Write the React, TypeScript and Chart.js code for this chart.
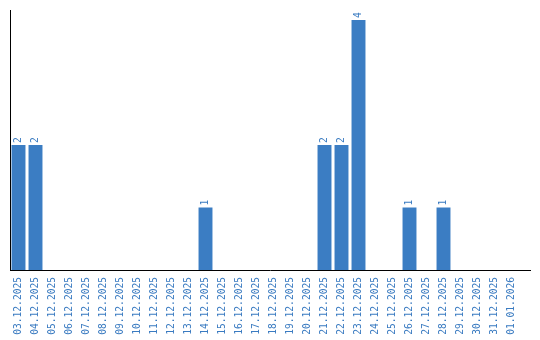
import React, { useEffect, useRef } from "react";
import { Chart, registerables } from "chart.js";

Chart.register(...registerables);

const categories = [
  "03.12.2025", "04.12.2025", "05.12.2025", "06.12.2025", "07.12.2025",
  "08.12.2025", "09.12.2025", "10.12.2025", "11.12.2025", "12.12.2025",
  "13.12.2025", "14.12.2025", "15.12.2025", "16.12.2025", "17.12.2025",
  "18.12.2025", "19.12.2025", "20.12.2025", "21.12.2025", "22.12.2025",
  "23.12.2025", "24.12.2025", "25.12.2025", "26.12.2025", "27.12.2025",
  "28.12.2025", "29.12.2025", "30.12.2025", "31.12.2025", "01.01.2026",
];
const counts = [
  2, 2, 0, 0, 0, 0, 0, 0, 0, 0,
  0, 1, 0, 0, 0, 0, 0, 0, 2, 2,
  4, 0, 0, 1, 0, 1, 0, 0, 0, 0,
];

const BAR = "#3b7dc3";
const TEXT = "#3a7bc1";
const FONT = "'DejaVu Sans Mono', 'Liberation Mono', monospace";

const axisAndLabels = {
  id: "axisAndLabels",
  afterDatasetsDraw(chart: any) {
    const { ctx, chartArea } = chart;
    ctx.save();
    ctx.strokeStyle = "#000";
    ctx.lineWidth = 1;
    ctx.beginPath();
    ctx.moveTo(chartArea.left + 0.5, chartArea.top);
    ctx.lineTo(chartArea.left + 0.5, chartArea.bottom + 1);
    ctx.moveTo(chartArea.left, chartArea.bottom + 0.5);
    ctx.lineTo(531, chartArea.bottom + 0.5);
    ctx.stroke();

    const meta = chart.getDatasetMeta(0);
    const xScale = chart.scales.x;
    ctx.fillStyle = TEXT;
    ctx.font = `9.6px ${FONT}`;
    ctx.textBaseline = "middle";
    meta.data.forEach((bar: any, i: number) => {
      const v = counts[i];
      if (!v) return;
      ctx.save();
      ctx.translate(bar.x, bar.y - 2);
      ctx.rotate(-Math.PI / 2);
      ctx.textAlign = "left";
      ctx.fillText(String(v), 0, 0);
      ctx.restore();
    });
    categories.forEach((label, i) => {
      const x = xScale.getPixelForValue(i);
      ctx.save();
      ctx.translate(x, chartArea.bottom + 7);
      ctx.rotate(-Math.PI / 2);
      ctx.textAlign = "right";
      ctx.fillText(label, 0, 0);
      ctx.restore();
    });
    ctx.restore();
  },
};

export default function App() {
  const ref = useRef<HTMLCanvasElement | null>(null);
  useEffect(() => {
    document.body.style.margin = "0";
    const chart = new Chart(ref.current!, {
      type: "bar",
      data: {
        labels: categories,
        datasets: [
          {
            data: counts,
            backgroundColor: BAR,
            borderWidth: 0,
            categoryPercentage: 1,
            barPercentage: 0.82,
          },
        ],
      },
      options: {
        animation: false,
        responsive: false,
        maintainAspectRatio: false,
        layout: { padding: { left: 10, right: 20, top: 10, bottom: 0 } },
        plugins: { legend: { display: false }, tooltip: { enabled: false } },
        scales: {
          x: {
            grid: { display: false },
            border: { display: false },
            ticks: { display: false },
            afterFit(scale: any) {
              scale.height = 70;
            },
          },
          y: {
            display: false,
            min: 0,
            max: 4.16,
          },
        },
      },
      plugins: [axisAndLabels],
    });
    return () => chart.destroy();
  }, []);
  return (
    <div style={{ width: 540, height: 340 }}>
      <canvas ref={ref} width={540} height={340} style={{ display: "block" }} />
    </div>
  );
}
